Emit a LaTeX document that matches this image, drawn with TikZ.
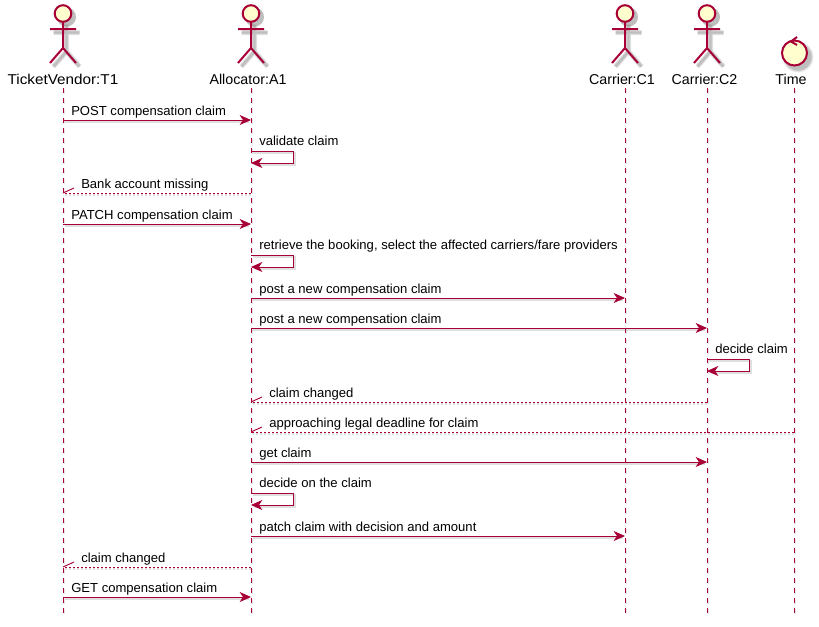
\documentclass[tikz,border=0pt]{standalone}
\usepackage{fontspec}
\setmainfont{Liberation Sans}
\usetikzlibrary{arrows.meta,calc}
\definecolor{umlred}{HTML}{A80036}
\definecolor{umlfill}{HTML}{FEFECE}
\definecolor{umlshadow}{HTML}{808080}
\tikzset{
  lifeline/.style={draw=umlred,line width=0.75pt,dash pattern=on 3.75pt off 3.75pt},
  msgline/.style={draw=umlred,line width=0.7pt,-{Stealth[length=8.5pt,width=7.5pt,inset=2.5pt]}},
  msgshadow/.style={draw=umlshadow,line width=0.9pt,opacity=.25},
  retline/.style={draw=umlred,line width=0.7pt,dash pattern=on 1.5pt off 1.5pt},
  rettip/.style={draw=umlred,line width=0.7pt},
  actorline/.style={draw=umlred,line width=1.5pt},
  actorlabel/.style={font=\fontsize{10.7pt}{12pt}\selectfont,text=black,inner sep=0pt,anchor=base},
  msglabel/.style={font=\fontsize{9.8pt}{11pt}\selectfont,text=black,inner sep=0pt,anchor=base west},
}
% actor figure at x, drawn with a soft shadow
\newcommand{\actorfig}[1]{%
  \foreach \w/\o in {4pt/.14,3pt/.2,1.8pt/.28}{
    \draw[shift={(#1+3.5,3.5)},draw=umlshadow,opacity=\o,line width=\w] (0,21)--(0,48) (-13,29)--(13,29) (-13,63)--(0,48)--(13,63);
    \fill[shift={(#1+3.5,3.5)},umlshadow,opacity=\o] (0,13.5) circle (9.5);
  }
  \begin{scope}[shift={(#1,0)}]
    \draw[actorline,fill=umlfill] (0,13.5) circle (8.3);
    \draw[actorline] (0,22)--(0,48) (-13,29)--(13,29) (-13,63)--(0,48)--(13,63);
  \end{scope}}
\newcommand{\callmsg}[5]{% from, to, y, label x, text
  \draw[msgshadow] ($(#1 |- 0,#3)+(2,2)$) -- ($(#2 |- 0,#3)+(-2,2)$);
  \draw[msgline] (#1 |- 0,#3) -- (#2 |- 0,#3);
  \node[msglabel] at (#4,#3-5) {#5};}
\newcommand{\selfmsg}[4]{% who, y, label x, text
  \draw[msgshadow] ($(#1 |- 0,#2)+(2,2)$) -| ++(42,12) -- ++(-40,0);
  \draw[msgline] (#1 |- 0,#2) -- ++(42,0) -- ++(0,12) -- (#1 |- 0,#2+12);
  \node[msglabel] at (#3,#2-6) {#4};}
\newcommand{\retmsg}[5]{% from (right), to (left), y, label x, text
  \draw[msgshadow,dash pattern=on 1.5pt off 1.5pt] ($(#1 |- 0,#3)+(0,2)$) -- ($(#2 |- 0,#3)+(2,2)$);
  \draw[retline] (#1 |- 0,#3) -- (#2 |- 0,#3);
  \draw[rettip] (#2 |- 0,#3) -- ++(11,-5);
  \node[msglabel] at (#4,#3-5) {#5};}
\begin{document}
\begin{tikzpicture}[x=0.75pt,y=-0.75pt]
\useasboundingbox (0,0) rectangle (819,626);
\fill[white] (0,0) rectangle (819,626);
% lifeline anchors
\coordinate (T1) at (63,88);
\coordinate (A1) at (251,88);
\coordinate (C1) at (625,88);
\coordinate (C2) at (707,88);
\coordinate (TM) at (794,88);
\coordinate (T1e) at (63,613);
\coordinate (A1e) at (251,613);
\coordinate (C1e) at (625,613);
\coordinate (C2e) at (707,613);
\coordinate (TMe) at (794,613);
\foreach \a/\b in {T1/T1e,A1/A1e,C1/C1e,C2/C2e,TM/TMe}{
  \draw[draw=umlshadow,opacity=.2,line width=0.75pt,dash pattern=on 3.75pt off 3.75pt] ($(\a)+(1,1)$) -- ($(\b)+(1,1)$);
  \draw[lifeline] (\a) -- (\b);
}
% actors
\actorfig{63}
\actorfig{251}
\actorfig{625}
\actorfig{707}
% control
\foreach \r/\o in {15.5/.14,14.5/.2,13.5/.28}{
  \fill[umlshadow,opacity=\o] (798,57) circle (\r);
}
\draw[actorline,fill=umlfill] (794.5,53) circle (12.5);
\draw[actorline] (797,37) -- (791,41.5) -- (797,45);
% labels
\node[actorlabel,xscale=1.07,transform shape] (T1l) at (63,84) {TicketVendor:T1};
\node[actorlabel] (A1l) at (248,84) {Allocator:A1};
\node[actorlabel] (C1l) at (622,84) {Carrier:C1};
\node[actorlabel] (C2l) at (704.5,84) {Carrier:C2};
\node[actorlabel] (TMl) at (791,84) {Time};
% messages
\callmsg{T1}{A1}{120}{71}{POST compensation claim}
\selfmsg{A1}{151}{259}{validate claim}
\retmsg{A1}{T1}{193}{81}{Bank account missing}
\callmsg{T1}{A1}{224}{71}{PATCH compensation claim}
\selfmsg{A1}{255}{259}{retrieve the booking, select the affected carriers/fare providers}
\callmsg{A1}{C1}{298}{259}{post a new compensation claim}
\callmsg{A1}{C2}{328}{259}{post a new compensation claim}
\selfmsg{C2}{359}{715}{decide claim}
\retmsg{C2}{A1}{402}{269}{claim changed}
\retmsg{TM}{A1}{432}{269}{approaching legal deadline for claim}
\callmsg{A1}{C2}{462}{259}{get claim}
\selfmsg{A1}{493}{259}{decide on the claim}
\callmsg{A1}{C1}{536}{259}{patch claim with decision and amount}
\retmsg{A1}{T1}{567}{81}{claim changed}
\callmsg{T1}{A1}{597}{71}{GET compensation claim}
\end{tikzpicture}
\end{document}
